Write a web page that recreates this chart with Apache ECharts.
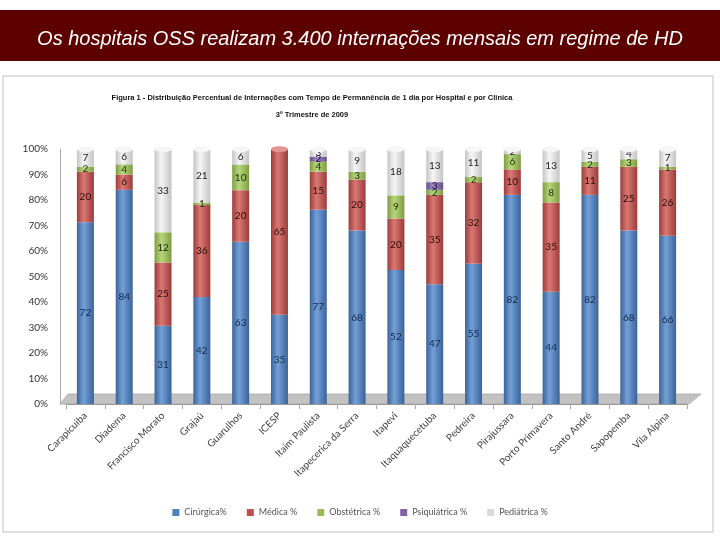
<!DOCTYPE html>
<html>
<head>
<meta charset="utf-8">
<script src="https://cdn.jsdelivr.net/npm/echarts@6/dist/echarts.min.js"></script>
<style>html,body{margin:0;padding:0;background:#fff;}#c{width:720px;height:540px;}</style>
</head>
<body>
<div id="c"></div>
<script>
const categories = ["Carapicuiba","Diadema","Francisco Morato","Grajaú","Guarulhos","ICESP","Itaim Paulista","Itapecerica da Serra","Itapevi","Itaquaquecetuba","Pedreira","Pirajussara","Porto Primavera","Santo André","Sapopemba","Vila Alpina"];
const cirurgica    = [72,84,31,42,63,35,77,68,52,47,55,82,44,82,68,66];
const medica       = [20, 6,25,36,20,65,15,20,20,35,32,10,35,11,25,26];
const obstetrica   = [ 2, 4,12, 1,10, 0, 4, 3, 9, 2, 2, 6, 8, 2, 3, 1];
const psiquiatrica = [ 0, 0, 0, 0, 0, 0, 2, 0, 0, 3, 0, 0, 0, 0, 0, 0];
const pediatrica   = [ 7, 6,33,21, 6, 0, 3, 9,18,13,11, 2,13, 5, 4, 7];
const seriesNames = ["Cirúrgica%","Médica %","Obstétrica %","Psiquiátrica %","Pediátrica %"];
const yTicks = [0,10,20,30,40,50,60,70,80,90,100];

const raw = [cirurgica, medica, obstetrica, psiquiatrica, pediatrica];
const solid = ['#4f81bd','#c0504d','#9bbb59','#8064a2','#d9d9d9'];
const grads = [
  ['#3a6399','#74a0d8','#3a6399'],
  ['#9c3b38','#da7874','#9c3b38'],
  ['#7e9d43','#b8d67c','#7e9d43'],
  ['#64508a','#9f86c2','#64508a'],
  ['#c4c4c4','#f6f6f6','#c4c4c4']
];
const labelColors = ['#14294a','#2a0c0c','#1e2a0a','#1c1030','#222'];
const totals = categories.map((c,i)=>raw.reduce((s,a)=>s+a[i],0));

const GRID_LEFT = 66, GRID_RIGHT = 33, GRID_TOP = 149, GRID_BOTTOM = 136;

function grad(g){
  return new echarts.graphic.LinearGradient(0,0,1,0,[
    {offset:0,color:g[0]},{offset:0.4,color:g[1]},{offset:1,color:g[2]}
  ]);
}

const series = raw.map((arr,k)=>({
  name: seriesNames[k],
  type: 'bar',
  stack: 'total',
  barWidth: 17,
  itemStyle: { color: grad(grads[k]) },
  label: {
    show: true,
    position: 'inside',
    fontFamily: 'Lato',
    fontSize: 10,
    color: labelColors[k],
    formatter: p => (arr[p.dataIndex] ? String(arr[p.dataIndex]) : '')
  },
  data: arr.map((v,i)=> v / totals[i] * 100)
}));

const topFill = categories.map((c,i)=>{
  for (let k = raw.length-1; k>=0; k--) if (raw[k][i] > 0) return k;
  return 0;
});
const topColors = ['#8fb2e0','#e39591','#c6e090','#b9a7d3','#f6f6f6'];
const topStroke = ['#4f81bd','#b04541','#8aa84c','#705594','#bcbcbc'];
series.push({
  type: 'pictorialBar',
  name: 'top',
  symbol: 'circle',
  symbolSize: [17, 6],
  symbolPosition: 'end',
  symbolOffset: [0, '-50%'],
  z: 5,
  silent: true,
  legendHoverLink: false,
  data: totals.map((t,i)=>({
    value: raw.reduce((s,a)=>s + a[i]/totals[i]*100, 0),
    itemStyle: { color: topColors[topFill[i]], borderColor: topStroke[topFill[i]], borderWidth: 0.6 }
  }))
});

const chart = echarts.init(document.getElementById('c'), null, {renderer:'canvas'});
const floorY = 540 - GRID_BOTTOM;
const floorL = GRID_LEFT - 6, floorR = 720 - GRID_RIGHT + 2;

chart.setOption({
  animation: false,
  backgroundColor: '#fff',
  graphic: [
    { type:'rect', z:-10, shape:{x:0,y:10,width:720,height:51}, style:{fill:'#5c0000'} },
    { type:'rect', z:-10, shape:{x:3,y:76,width:710,height:456}, style:{fill:'#fff', stroke:'#d6d6d6', lineWidth:1.5} },
    { type:'polygon', z:-5, shape:{points:[[floorL,floorY],[floorR,floorY],[floorR+12,floorY-10],[floorL+8,floorY-10]]},
      style:{fill:'#c2c2c2', stroke:'#a8a8a8', lineWidth:0.8} }
  ],
  title: [
    { text: 'Os hospitais OSS realizam 3.400 internações mensais em regime de HD',
      left: 'center', top: 24,
      textStyle: { color:'#fff', fontStyle:'italic', fontWeight:'normal', fontFamily:'Liberation Sans', fontSize:20 } },
    { text: 'Figura 1 - Distribuição Percentual de Internações com Tempo de Permanência de 1 dia por Hospital e por Clinica',
      left: 307, textAlign:'center', top: 89,
      textStyle: { color:'#111', fontWeight:'bold', fontFamily:'Liberation Sans', fontSize:7.5 } },
    { text: '3º Trimestre de 2009',
      left: 307, textAlign:'center', top: 106,
      textStyle: { color:'#111', fontWeight:'bold', fontFamily:'Liberation Sans', fontSize:7.5 } }
  ],
  legend: {
    bottom: 18,
    left: 'center',
    itemWidth: 7, itemHeight: 7, itemGap: 20,
    icon: 'rect',
    textStyle: { fontFamily:'Lato', fontSize:9, color:'#555' },
    data: seriesNames.map((n,k)=>({ name:n, itemStyle:{ color: solid[k] } }))
  },
  grid: { left: GRID_LEFT, right: GRID_RIGHT, top: GRID_TOP, bottom: GRID_BOTTOM },
  xAxis: {
    type: 'category',
    data: categories,
    axisLine: { show: true, lineStyle:{ color:'#999', width:1 } },
    axisTick: { show: true, length: 5, lineStyle:{ color:'#aaa' } },
    axisLabel: { rotate: 45, margin: 10, fontFamily:'Lato', fontSize:10, color:'#444', interval: 0 }
  },
  yAxis: {
    type: 'value',
    min: 0, max: 100, interval: 10,
    offset: 6,
    axisLine: { show: true, lineStyle:{ color:'#aaa' } },
    axisTick: { show: false },
    splitLine: { show: false },
    axisLabel: { fontFamily:'Lato', fontSize:10, color:'#333', margin: 12,
      formatter: v => (yTicks.includes(v) ? v + '%' : '') }
  },
  series: series
});
</script>
</body>
</html>
